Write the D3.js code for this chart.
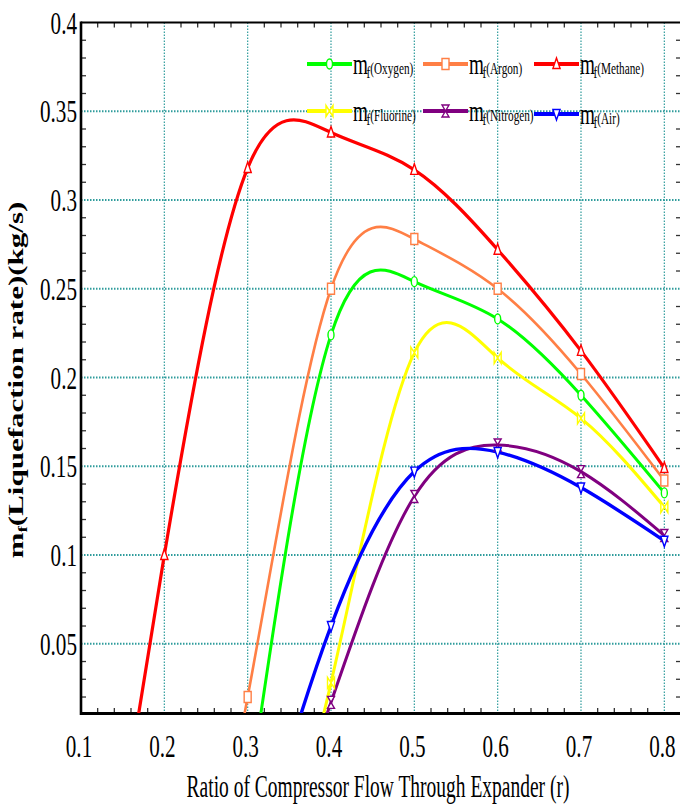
<!DOCTYPE html>
<meta charset="utf-8">
<script src="https://d3js.org/d3.v7.min.js"></script>
<style>
  body { margin: 0; background: #fff; }
  text { font-family: "Liberation Serif", "Times New Roman", serif; fill: #000; }
</style>
<svg id="chart"></svg>
<script>
// chart values (points below the axis are clipped)
var ratios   = [0.1, 0.2, 0.3, 0.4, 0.5, 0.6, 0.7, 0.8];
var oxygen   = [null, null, -0.04, 0.224, 0.254, 0.233, 0.190, 0.135];
var argon    = [null, -0.20, 0.020, 0.250, 0.278, 0.250, 0.202, 0.142];
var methane  = [-0.19, 0.100, 0.318, 0.338, 0.317, 0.272, 0.215, 0.149];
var fluorine = [null, null, -0.14, 0.028, 0.214, 0.211, 0.177, 0.127];
var nitrogen = [null, null, -0.12, 0.017, 0.133, 0.162, 0.147, 0.111];
var air      = [null, null, -0.09, 0.060, 0.147, 0.158, 0.138, 0.108];

var seriesNames = ["Oxygen", "Argon", "Methane", "Fluorine", "Nitrogen", "Air"];
var xTickLabels = ["0.1", "0.2", "0.3", "0.4", "0.5", "0.6", "0.7", "0.8"];
var yTickLabels = ["0.05", "0.1", "0.15", "0.2", "0.25", "0.3", "0.35", "0.4"];

var width = 680, height = 809;
var K = 0.66; // the whole figure is squeezed sideways

var svg = d3.select("#chart").attr("width", width).attr("height", height);

var x = d3.scaleLinear().domain([0.1, 0.82]).range([81, 681]);
var y = d3.scaleLinear().domain([0.011, 0.4]).range([713, 22.5]);

var series = [
  { name: "Oxygen",   values: oxygen,   color: "#00ff00", lw: 3,   shape: "circle" },
  { name: "Argon",    values: argon,    color: "#ff7f45", lw: 2.6, shape: "square" },
  { name: "Methane",  values: methane,  color: "#ff0000", lw: 3.2, shape: "up" },
  { name: "Fluorine", values: fluorine, color: "#ffff00", lw: 3,   shape: "bowtie" },
  { name: "Nitrogen", values: nitrogen, color: "#800080", lw: 3,   shape: "hourglass" },
  { name: "Air",      values: air,      color: "#0000ff", lw: 3.4, shape: "down" }
];

function markerPath(shape) {
  if (shape == "circle") return "M0,-5 A3,5 0 1,1 0,5 A3,5 0 1,1 0,-5 Z";
  if (shape == "square") return "M-3.5,-5.5 L3.5,-5.5 L3.5,5.5 L-3.5,5.5 Z";
  if (shape == "up") return "M0,-6 L3.6,4.5 L-3.6,4.5 Z";
  if (shape == "down") return "M0,6 L3.6,-4.5 L-3.6,-4.5 Z";
  if (shape == "bowtie") return "M-3.5,-5.5 L3.5,5.5 L3.5,-5.5 L-3.5,5.5 Z";
  return "M-3.5,-6 L3.5,-6 L-3.5,6 L3.5,6 Z";
}

// squeezed text helper
function sText(g, px, py, str, size, anchor) {
  return g.append("text")
    .attr("transform", "translate(" + px + "," + py + ") scale(" + K + ",1)")
    .attr("text-anchor", anchor)
    .style("font-size", size + "px")
    .text(str);
}

svg.append("defs").append("clipPath").attr("id", "plotclip")
  .append("rect").attr("x", x(0.1)).attr("y", y(0.4))
  .attr("width", x(0.82) - x(0.1)).attr("height", y(0.011) - y(0.4));

// grid
var grid = svg.append("g");
var gridColor = "#2f9c9c";
grid.selectAll(".vg").data(xTickLabels.slice(1).map(Number)).enter().append("line")
  .attr("x1", function (d) { return x(d); }).attr("x2", function (d) { return x(d); })
  .attr("y1", y(0.4)).attr("y2", y(0.011))
  .style("stroke", gridColor).style("stroke-width", 1.2).style("stroke-dasharray", "1.5,1.5");
grid.selectAll(".hg").data(yTickLabels.slice(0, -1).map(Number)).enter().append("line")
  .attr("x1", x(0.1)).attr("x2", x(0.82))
  .attr("y1", function (d) { return y(d); }).attr("y2", function (d) { return y(d); })
  .style("stroke", gridColor).style("stroke-width", 2).style("stroke-dasharray", "1.5,1.5");

// minor ticks (inward)
var xMinor = d3.range(0.12, 0.82, 0.02).filter(function (d) { return Math.abs(d * 10 - Math.round(d * 10)) > 0.01; });
var yMinor = d3.range(0.02, 0.4, 0.01).filter(function (d) { return Math.abs(d * 20 - Math.round(d * 20)) > 0.01; });
var ticks = svg.append("g").style("stroke", "#333").style("stroke-width", 1.3);
[y(0.011), y(0.4)].forEach(function (yy, i) {
  ticks.selectAll(".xt" + i).data(xMinor).enter().append("line")
    .attr("x1", function (d) { return x(d); }).attr("x2", function (d) { return x(d); })
    .attr("y1", yy).attr("y2", i == 0 ? yy - 5 : yy + 5);
});
[x(0.1), x(0.82)].forEach(function (xx, i) {
  ticks.selectAll(".yt" + i).data(yMinor).enter().append("line")
    .attr("y1", function (d) { return y(d); }).attr("y2", function (d) { return y(d); })
    .attr("x1", xx).attr("x2", i == 0 ? xx + 5 : xx - 5);
});

// frame
svg.append("line").attr("x1", x(0.1)).attr("x2", x(0.82)).attr("y1", y(0.4)).attr("y2", y(0.4))
  .style("stroke", "#000").style("stroke-width", 2);
svg.append("line").attr("x1", x(0.1)).attr("x2", x(0.82)).attr("y1", y(0.011) + 0.5).attr("y2", y(0.011) + 0.5)
  .style("stroke", "#000").style("stroke-width", 3);
svg.append("line").attr("x1", x(0.1)).attr("x2", x(0.1)).attr("y1", y(0.4) - 1).attr("y2", y(0.011) + 2)
  .style("stroke", "#000").style("stroke-width", 2.6);

// tick labels
var labels = svg.append("g");
yTickLabels.forEach(function (t) { sText(labels, 77, y(+t) + 11, t, 32, "end"); });
xTickLabels.forEach(function (t) { sText(labels, x(+t) - 2, 756.5, t, 32, "middle"); });

// axis titles
var xt = svg.append("text")
  .attr("text-anchor", "middle")
  .style("font-size", "32px")
  .text("Ratio of Compressor Flow Through Expander (r)");
var xk = 383 / xt.node().getComputedTextLength();
xt.attr("transform", "translate(378,796.5) scale(" + xk + ",1)");

var yt = svg.append("text")
  .attr("transform", "translate(23,380) scale(" + K + ",1) rotate(-90)")
  .attr("text-anchor", "middle")
  .style("font-size", "31px").style("font-weight", "bold");
yt.append("tspan").text("m");
yt.append("tspan").attr("dy", 6).style("font-size", "19px").text("f");
yt.append("tspan").attr("dy", -6).text("(Liquefaction rate)(kg/s)");

// curves
var line = d3.line()
  .defined(function (d) { return d[1] != null; })
  .x(function (d) { return x(d[0]); })
  .y(function (d) { return y(d[1]); })
  .curve(d3.curveNatural);

var plot = svg.append("g").attr("clip-path", "url(#plotclip)");
series.forEach(function (s) {
  var pts = ratios.map(function (r, i) { return [r, s.values[i]]; }).filter(function (p) { return p[1] != null; });
  plot.append("path").datum(pts).attr("d", line)
    .style("fill", "none").style("stroke", s.color).style("stroke-width", s.lw);
});
series.forEach(function (s) {
  var pts = ratios.map(function (r, i) { return [r, s.values[i]]; }).filter(function (p) { return p[1] != null; });
  plot.selectAll(null).data(pts).enter().append("path")
    .attr("d", markerPath(s.shape))
    .attr("transform", function (d) { return "translate(" + x(d[0]) + "," + y(d[1]) + ")"; })
    .style("fill", "#fff").style("stroke", s.color).style("stroke-width", 1.4);
});

// legend
var legCols = [307, 423, 534];
var legRows = [64, 111];
var legend = svg.append("g");
series.forEach(function (s, i) {
  var lx = legCols[i % 3], ly = legRows[Math.floor(i / 3)] + (s.name == "Air" ? 3 : 0);
  legend.append("line").attr("x1", lx).attr("x2", lx + 45).attr("y1", ly).attr("y2", ly)
    .style("stroke", s.color).style("stroke-width", 4);
  legend.append("path").attr("d", markerPath(s.shape))
    .attr("transform", "translate(" + (lx + 22.5) + "," + ly + ")")
    .style("fill", "#fff").style("stroke", s.color).style("stroke-width", 1.4);
  var t = legend.append("text")
    .attr("transform", "translate(" + (lx + 46) + "," + (ly + 9.5) + ") scale(" + K + ",1)")
    .style("font-size", "29px");
  t.append("tspan").text("m");
  t.append("tspan").attr("dx", -2).attr("dy", 4).style("font-size", "17px").text("f");
  t.append("tspan").attr("dy", -4).style("font-size", "17px").text("(" + seriesNames[i] + ")");
});
</script>
